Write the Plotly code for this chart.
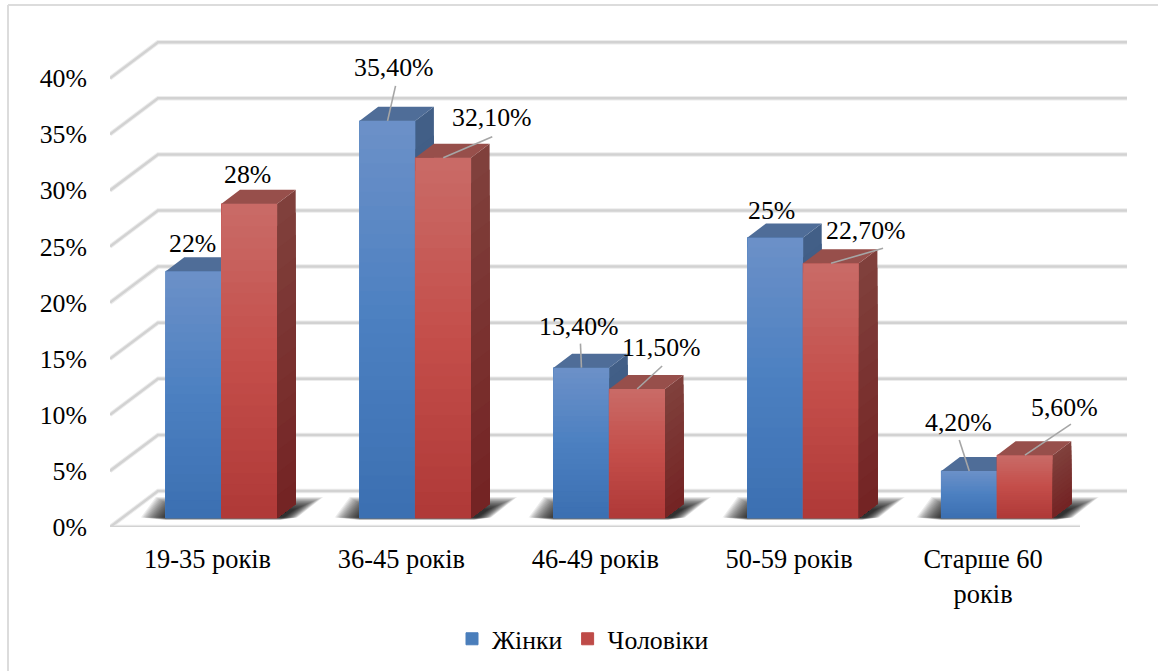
import plotly.graph_objects as go

# Survey data
categories = ["19-35 років", "36-45 років", "46-49 років", "50-59 років", "Старше 60<br>років"]
women = [22, 35.4, 13.4, 25, 4.2]
men = [28, 32.1, 11.5, 22.7, 5.6]
women_labels = ["22%", "35,40%", "13,40%", "25%", "4,20%"]
men_labels = ["28%", "32,10%", "11,50%", "22,70%", "5,60%"]
y_ticks = [0, 5, 10, 15, 20, 25, 30, 35, 40]
y_tick_labels = ["0%", "5%", "10%", "15%", "20%", "25%", "30%", "35%", "40%"]

# Label placement relative to the top centre of each bar's front face, in pixels
women_label_off = [(-1.5, -28), (6, -53), (-2, -41), (-3.5, -27), (-11, -48)]
men_label_off = [(-2, -29), (49, -40), (24, -41), (35, -33), (40, -48)]
women_leader = [None, (8, -35), (-1, -24), None, (-10, -31)]
men_leader = [None, (49, -21), (25, -23), (52, -15), (46, -31)]

# Page size, plot frame and oblique projection scales
PAGE_W, PAGE_H = 1158, 671
LEFT, RIGHT, TOP, BOTTOM = 110, 1130, 40, 527
PX_PER_CAT = 193.9
PX_PER_PCT = 11.22
XR = [(LEFT - 207.5) / PX_PER_CAT, (RIGHT - 207.5) / PX_PER_CAT]
YR = [0, (BOTTOM - TOP) / PX_PER_PCT]
X_DOMAIN = [LEFT / PAGE_W, RIGHT / PAGE_W]
Y_DOMAIN = [1 - BOTTOM / PAGE_H, 1 - TOP / PAGE_H]


def dx(px):
    return px / PX_PER_CAT


def dy(px):
    return -px / PX_PER_PCT


BAR_W = 55.7 / PX_PER_CAT
BAR_SHIFT_X = dx(14)              # bars stand a little way into the floor
BAR_BASE = dy(-9)
SIDE_X, SIDE_Y = dx(18.5), dy(-14)  # depth of each bar
WALL_X, WALL_Y = dx(48), dy(-36)    # depth of the floor


def lerp_stops(stops, t):
    for (t0, c0), (t1, c1) in zip(stops, stops[1:]):
        if t <= t1:
            f = (t - t0) / (t1 - t0)
            rgb = [round(a + (b - a) * f) for a, b in zip(c0, c1)]
            return "rgb(%d,%d,%d)" % tuple(rgb)
    return "rgb(%d,%d,%d)" % stops[-1][1]


BLUE_FRONT = [(0, (107, 144, 200)), (0.5, (76, 128, 193)), (1, (60, 112, 178))]
RED_FRONT = [(0, (201, 106, 102)), (0.5, (196, 78, 74)), (1, (176, 58, 56))]
BLUE_SIDE = [(0, (66, 95, 135)), (1, (52, 80, 120))]
RED_SIDE = [(0, (128, 64, 60)), (1, (116, 36, 36))]
BLUE_TOP, RED_TOP = "#4f6d98", "#974f4b"
LEGEND_BLUE, LEGEND_RED = "#4a7ebb", "#be4b48"
BANDS = 28

fig = go.Figure()


def poly_trace(xs, ys, color, xa, ya):
    fig.add_trace(go.Scatter(x=xs, y=ys, mode="none", fill="toself", fillcolor=color,
                             showlegend=False, hoverinfo="skip", xaxis=xa, yaxis=ya))


def line_trace(xs, ys, color, width, xa="x", ya="y"):
    fig.add_trace(go.Scatter(x=xs, y=ys, mode="lines", line=dict(color=color, width=width),
                             showlegend=False, hoverinfo="skip", xaxis=xa, yaxis=ya))


# Back wall grid lines, side wall diagonals and the floor edge
gx, gy = [], []
for v in y_ticks:
    gx += [XR[0], XR[0] + WALL_X, (1127 - 207.5) / PX_PER_CAT, None]
    gy += [v, v + WALL_Y, v + WALL_Y, None]
gx += [XR[0], (1080 - 207.5) / PX_PER_CAT]
gy += [0, 0]
line_trace(gx, gy, "#ececec", 4.5)
line_trace(gx, gy, "#d2d2d2", 2.5)

# Soft contact shadows on the floor, built from nested translucent outlines
SHADOW_LEVELS = 20
for lvl in range(SHADOW_LEVELS):
    t = 1 - lvl / SHADOW_LEVELS
    xs, ys = [], []
    for i in range(len(categories)):
        left = i + BAR_SHIFT_X - BAR_W
        right = i + BAR_SHIFT_X + BAR_W
        y0 = BAR_BASE + dy(2 - t * 2.5)
        y1 = BAR_BASE + dy(-8 - 13 * t)
        xs += [left - dx(25 * t), right + dx(2 + 18 * t), right + dx(16 + 30 * t), left + dx(10 - 20 * t),
               left - dx(25 * t), None]
        ys += [y0, y0, y1, y1, y0, None]
    poly_trace(xs, ys, "rgba(0,0,0,0.075)", "x", "y")


def draw_series(values, name, centre_off, front, side, top, legend_color, xa, ya):
    centres = [i + BAR_SHIFT_X + centre_off for i in range(len(values))]
    fig.add_trace(go.Bar(x=centres, y=values, base=BAR_BASE, width=BAR_W, name=name,
                         marker=dict(color=legend_color, line=dict(width=1, color=legend_color)),
                         xaxis=xa, yaxis=ya,
                         hovertemplate="%{y}%<extra>" + name + "</extra>"))
    # Vertical gradient on the front face: each layer is a shorter bar painted over the last
    for k in range(BANDS):
        frac = 1 - k / BANDS
        fig.add_trace(go.Bar(x=centres, y=[v * frac for v in values], base=BAR_BASE, width=BAR_W,
                             marker=dict(color=lerp_stops(front, k / (BANDS - 1)), line=dict(width=0)),
                             showlegend=False, hoverinfo="skip", xaxis=xa, yaxis=ya))
    # Side face, with the same top-to-bottom shading
    for k in range(BANDS // 2):
        frac = 1 - k / (BANDS // 2)
        xs, ys = [], []
        for c, v in zip(centres, values):
            r = c + BAR_W / 2
            t = v * frac + BAR_BASE
            xs += [r, r + SIDE_X, r + SIDE_X, r, r, None]
            ys += [BAR_BASE, BAR_BASE + SIDE_Y, t + SIDE_Y, t, BAR_BASE, None]
        poly_trace(xs, ys, lerp_stops(side, k / (BANDS // 2 - 1)), xa, ya)
    # Top face
    xs, ys = [], []
    for c, v in zip(centres, values):
        l, r = c - BAR_W / 2, c + BAR_W / 2
        t = v + BAR_BASE
        xs += [l, r, r + SIDE_X, l + SIDE_X, l, None]
        ys += [t, t, t + SIDE_Y, t + SIDE_Y, t, None]
    poly_trace(xs, ys, top, xa, ya)
    return centres


women_x = draw_series(women, "Жінки", -BAR_W / 2, BLUE_FRONT, BLUE_SIDE, BLUE_TOP, LEGEND_BLUE, "x2", "y2")
men_x = draw_series(men, "Чоловіки", BAR_W / 2, RED_FRONT, RED_SIDE, RED_TOP, LEGEND_RED, "x3", "y3")

label_font = dict(family="Liberation Serif", size=25.8, color="#000000")
tick_font_x = dict(family="Liberation Serif", size=26.4, color="#000000")

# Leader lines and value labels
for xs_c, vals, labels, offs, leaders in [
    (women_x, women, women_labels, women_label_off, women_leader),
    (men_x, men, men_labels, men_label_off, men_leader),
]:
    for c, v, text, off, lead in zip(xs_c, vals, labels, offs, leaders):
        y = v + BAR_BASE
        if lead is not None:
            line_trace([c, c + dx(lead[0])], [y, y + dy(lead[1])], "#a6a6a6", 1.6, "x3", "y3")
        fig.add_annotation(x=c, y=y, xref="x", yref="y", xshift=off[0], yshift=-off[1], text=text,
                           showarrow=False, xanchor="center", yanchor="middle", font=label_font)

# Chart border: only its top and left edges fall inside the page
border = dict(color="#dcdcdc", width=2)
fig.add_shape(type="line", xref="paper", yref="paper", x0=8 / PAGE_W, x1=8 / PAGE_W,
              y0=0, y1=1 - 5 / PAGE_H, line=border, layer="below")
fig.add_shape(type="line", xref="paper", yref="paper", x0=8 / PAGE_W, x1=1,
              y0=1 - 5 / PAGE_H, y1=1 - 5 / PAGE_H, line=border, layer="below")

overlay = dict(range=XR, domain=X_DOMAIN, visible=False, fixedrange=True)
overlay_y = dict(range=YR, domain=Y_DOMAIN, visible=False, fixedrange=True)
fig.update_layout(
    width=PAGE_W, height=PAGE_H, autosize=False,
    margin=dict(l=0, r=0, t=0, b=0),
    paper_bgcolor="white", plot_bgcolor="rgba(0,0,0,0)",
    barmode="overlay", font=label_font,
    xaxis=dict(range=XR, domain=X_DOMAIN, tickmode="array", tickvals=list(range(len(categories))),
               ticktext=categories, showgrid=False, zeroline=False, showline=False, ticks="",
               ticklabelstandoff=14, tickfont=tick_font_x, fixedrange=True, automargin=False),
    yaxis=dict(range=YR, domain=Y_DOMAIN, tickmode="array", tickvals=y_ticks, ticktext=y_tick_labels,
               showgrid=False, zeroline=False, showline=False, ticks="", ticklabelstandoff=22,
               tickfont=label_font, fixedrange=True, automargin=False),
    xaxis2=dict(overlaying="x", anchor="y2", **overlay),
    yaxis2=dict(overlaying="y", anchor="x2", **overlay_y),
    xaxis3=dict(overlaying="x", anchor="y3", **overlay),
    yaxis3=dict(overlaying="y", anchor="x3", **overlay_y),
    legend=dict(orientation="h", x=452 / PAGE_W, y=1 - 639 / PAGE_H, xanchor="left", yanchor="middle",
                font=label_font, bgcolor="rgba(0,0,0,0)", itemclick=False, itemdoubleclick=False),
)

fig.write_html("out.html")
